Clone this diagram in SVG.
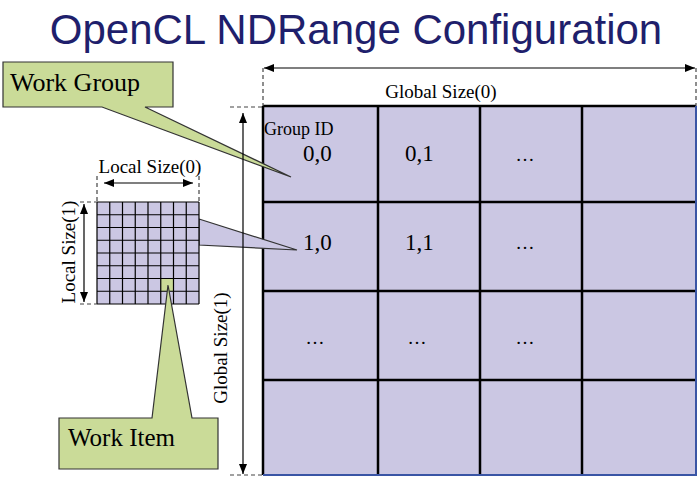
<svg xmlns="http://www.w3.org/2000/svg" width="697" height="477" viewBox="0 0 697 477">
<defs>
<style>
.title{font-family:"Liberation Sans",Arial,sans-serif;font-size:42px;fill:#1f1f6c}
.serif{font-family:"Liberation Serif","Times New Roman",serif;fill:#000}
.lbl{font-size:19px}
.cell{fill:#cbc7e3}
.gl{stroke:#000;stroke-width:2.5;fill:none}
.ll{stroke:#000;stroke-width:1.2;fill:none}
.dash{stroke:#444;stroke-width:1.2;stroke-dasharray:4 3;fill:none}
.dim{stroke:#000;stroke-width:1.2;fill:none}
.callout{fill:#cadb98;stroke:#333;stroke-width:1.2}
</style>
<marker id="ah" viewBox="0 0 10 8" refX="10" refY="4" markerWidth="10" markerHeight="8" markerUnits="userSpaceOnUse" orient="auto-start-reverse">
<path d="M0,0 L10,4 L0,8 Z" fill="#000"/>
</marker>
</defs>
<rect width="697" height="477" fill="#fff"/>
<g id="title">
<text class="title" x="356" y="44" text-anchor="middle">OpenCL NDRange Configuration</text>
</g>

<g id="global-grid">
<rect class="cell" x="263" y="106" width="433" height="369"/>
<path class="gl" d="M263,106 H696 M263,202 H696 M263,291 H696 M263,380 H696 M263,106 V475 M378,106 V475 M480,106 V475 M582,106 V475"/>
<path d="M263,475 H696 V106" stroke="#3a55a5" stroke-width="2" fill="none"/>
<g class="serif">
<text x="264" y="135" font-size="18">Group ID</text>
<text x="303" y="161" font-size="23">0,0</text>
<text x="405" y="161" font-size="23">0,1</text>
<text x="525" y="161" font-size="19" text-anchor="middle">…</text>
<text x="303" y="250" font-size="23">1,0</text>
<text x="405" y="250" font-size="23">1,1</text>
<text x="525" y="249" font-size="19" text-anchor="middle">…</text>
<text x="315" y="344" font-size="19" text-anchor="middle">…</text>
<text x="417" y="344" font-size="19" text-anchor="middle">…</text>
<text x="525" y="344" font-size="19" text-anchor="middle">…</text>
</g>
</g>

<g id="local-grid">
<path class="cell" d="M199,219 L297,250 L199,245 Z" stroke="#333" stroke-width="1.2"/>
<rect class="cell" x="97" y="202" width="102" height="102"/>
<rect x="160.75" y="278.5" width="12.75" height="12.75" fill="#cadb98"/>
<path class="ll" d="M97,202 H199 M97,214.75 H199 M97,227.5 H199 M97,240.25 H199 M97,253 H199 M97,265.75 H199 M97,278.5 H199 M97,291.25 H199 M97,304 H199 M97,202 V304 M109.75,202 V304 M122.5,202 V304 M135.25,202 V304 M148,202 V304 M160.75,202 V304 M173.5,202 V304 M186.25,202 V304 M199,202 V304"/>
</g>

<g id="work-group">
<path class="callout" d="M3,62 H173 V107 H145 L291,177 L102,107 H3 Z"/>
<text class="serif" x="10" y="91" font-size="26">Work Group</text>
</g>

<g id="work-item">
<path class="callout" d="M59,418 H152 L168,285 L192,418 H218 V469 H59 Z"/>
<text class="serif" x="68" y="446" font-size="25">Work Item</text>
</g>

<g id="connectors">
<path class="dash" d="M263,68 V106 M696,68 V106 M230,107 H263 M230,475 H263 M97,176 V202 M199,176 V202 M80,202 H97 M80,304 H97"/>
<line class="dim" x1="264" y1="68" x2="695" y2="68" marker-start="url(#ah)" marker-end="url(#ah)"/>
<line class="dim" x1="243" y1="113" x2="243" y2="474" marker-start="url(#ah)" marker-end="url(#ah)"/>
<line class="dim" x1="104" y1="183" x2="193" y2="183" marker-start="url(#ah)" marker-end="url(#ah)"/>
<line class="dim" x1="84" y1="204" x2="84" y2="302" marker-start="url(#ah)" marker-end="url(#ah)"/>
<g class="serif lbl">
<text x="441" y="98" text-anchor="middle">Global Size(0)</text>
<text x="150" y="173" text-anchor="middle">Local Size(0)</text>
<text transform="translate(75,252) rotate(-90)" text-anchor="middle">Local Size(1)</text>
<text transform="translate(227,348) rotate(-90)" text-anchor="middle">Global Size(1)</text>
</g>
</g>
</svg>
